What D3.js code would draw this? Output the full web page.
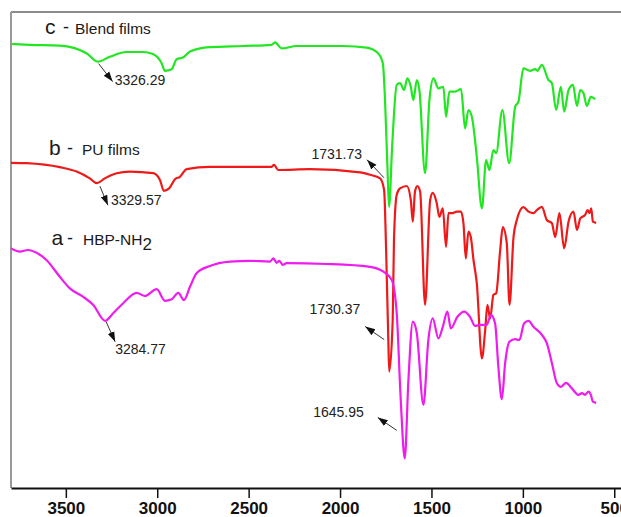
<!DOCTYPE html>
<html>
<head>
<meta charset="utf-8">
<script src="https://cdn.jsdelivr.net/npm/d3@7"></script>
<style>
  body { margin: 0; background: #fff; }
  svg { display: block; font-family: "Liberation Sans", Arial, sans-serif; }
</style>
</head>
<body>
<svg id="chart" width="621" height="517"></svg>
<script>
// wavenumber (cm-1), transmittance (a.u., offset)
const blendFilms = [
  [3800,111],[3697,110.8],[3533,110.6],[3387,108.7],[3326,106.6],[3259,107.8],[3168,109],[3078,109],
  [3024,108.5],[2976,106.2],[2958,104.3],[2921,104.7],[2894,107.2],[2860,107.6],[2821,109.1],[2712,110.2],
  [2531,110.5],[2374,110.8],[2356,111.4],[2319,109.9],[2237,110.5],[1984,110.5],[1854,110.1],[1792,108.7],
  [1766,106.2],[1754,97],[1741,80.5],[1732,70.3],[1714,86.3],[1690,100.8],[1672,101.2],[1650,99.5],
  [1632,102.4],[1613,100.3],[1599,97],[1580,102],[1566,99.5],[1535,78.7],[1511,97],[1489,102.4],
  [1462,99.9],[1435,100.3],[1420,92.8],[1402,99.1],[1371,99.1],[1338,99.7],[1316,89.9],[1298,94.5],
  [1279,92.8],[1252,82.8],[1224,69.9],[1201,82],[1183,79.5],[1161,84.5],[1146,83.7],[1112,94.5],
  [1075,81.2],[1042,95.3],[1024,96.6],[997,104.9],[960,104.3],[933,104.7],[920,104.3],[896,105.8],
  [860,102],[841,101.2],[818,94.5],[792,100.3],[774,94.1],[750,99.5],[726,100.8],[704,95.5],
  [686,99.5],[668,98.7],[650,95.5],[628,97.8],[604,97.2]
];

const puFilms = [
  [3800,81.3],[3715,81.2],[3533,80.2],[3441,79.1],[3369,77.4],[3330,76.2],[3287,77.4],[3222,78.7],
  [3150,79.1],[3022,78.7],[2985,77],[2964,74.3],[2935,74.9],[2903,77.2],[2876,77.8],[2839,79.7],
  [2712,80.3],[2374,80.3],[2361,80.8],[2338,79.5],[2164,79.7],[1891,78.9],[1836,78.3],[1781,77.4],
  [1759,74.5],[1748,59.5],[1736,37],[1731,29.1],[1712,42],[1705,62],[1690,73.3],[1672,74.9],
  [1635,75.5],[1613,72],[1602,66.6],[1590,74.1],[1577,75.5],[1562,74.1],[1535,45.8],[1507,72],
  [1493,73.8],[1471,71.2],[1457,67.8],[1438,69.9],[1420,60.3],[1407,68.7],[1389,68.7],[1361,69.1],
  [1339,69.1],[1325,66.2],[1312,57.4],[1298,64.1],[1285,62.8],[1270,57],[1252,51.2],[1224,32.4],
  [1206,39.5],[1194,45.8],[1179,42.4],[1161,48.3],[1146,48.7],[1124,59.5],[1110,65.2],[1088,61.2],
  [1073,45.8],[1051,62.8],[1033,67],[997,70.2],[969,69.1],[942,68.7],[923,69.5],[896,70.3],
  [869,67],[841,66.2],[823,62.7],[800,68.7],[774,59.9],[750,66.6],[723,69.1],[704,64.5],
  [686,67.4],[659,68.3],[646,69.5],[635,68.7],[626,69.9],[617,66.6],[599,66.3]
];

const hbpNH2 = [
  [3800,59.9],[3752,59.1],[3706,59.5],[3660,58.8],[3606,57],[3533,52.8],[3478,49.9],[3405,47.8],
  [3351,45.8],[3285,41.8],[3241,43.7],[3186,46.2],[3113,48.8],[3068,48],[3003,49.7],[2958,46.8],
  [2921,47.2],[2885,48.8],[2854,47],[2821,50.3],[2785,53.7],[2712,55.5],[2602,56.6],[2493,56.8],
  [2383,56.6],[2365,57.4],[2347,56.3],[2332,56.8],[2314,55.8],[2292,56.2],[2073,56],[1836,55.3],
  [1763,54.1],[1717,52],[1690,43.7],[1668,22],[1646,7.4],[1626,27],[1602,41.6],[1580,38.7],
  [1544,20.8],[1517,37],[1493,42.4],[1462,37.4],[1438,40.3],[1413,44.1],[1394,39.9],[1358,42.8],
  [1321,44.1],[1289,42.8],[1261,40.5],[1234,40.8],[1197,40.8],[1175,43.3],[1152,41.2],[1134,30.3],
  [1115,22.2],[1097,31.2],[1073,36.6],[1042,37.2],[1019,37],[993,41.2],[969,41.8],[942,40.3],
  [896,38.3],[869,36.2],[841,31.2],[814,26.2],[792,25.3],[763,26.3],[732,24.9],[696,23.3],
  [677,23.7],[659,23.3],[641,24.1],[628,23.3],[617,21.6],[599,21.3]
];

const majorTicks = [3500, 3000, 2500, 2000, 1500, 1000, 500];
const minorTicks = [3750, 3250, 2750, 2250, 1750, 1250, 750];

// peak labels: series index, label shown, wavenumber of the marked point
const peakSeries = [0, 1, 2, 0, 1, 2];
const peakLabels = ["3326.29", "3329.57", "3284.77", "1731.73", "1730.37", "1645.95"];
const peakAt = [3326, 3330, 3285, 1732, 1731, 1646];

const series = [blendFilms, puFilms, hbpNH2];
const colors = ["#22e622", "#ee1a1a", "#ee1cee"];

const svg = d3.select("#chart");

const x = d3.scaleLinear().domain([3800, 450]).range([11, 623.4]);
const y = d3.scaleLinear().domain([0, 119]).range([488, 12]);

// frame
svg.append("line").attr("x1", 11).attr("x2", 621).attr("y1", 12).attr("y2", 12)
  .attr("stroke", "#666").attr("stroke-width", 1.5);
svg.append("line").attr("x1", 11).attr("x2", 11).attr("y1", 12).attr("y2", 488)
  .attr("stroke", "#999").attr("stroke-width", 2);

// axis
const gx = svg.append("g").attr("transform", "translate(0,488)");
gx.call(d3.axisBottom(x).tickValues(minorTicks).tickSize(6).tickSizeOuter(0).tickFormat(""));
gx.call(d3.axisBottom(x).tickValues(majorTicks).tickSize(10).tickSizeOuter(0).tickFormat(d3.format("d")));
gx.select(".domain").attr("stroke", "#111").attr("stroke-width", 2);
gx.selectAll(".tick line").attr("stroke", "#111").attr("stroke-width", 1.5);
gx.selectAll(".tick text")
  .attr("y", 13.5)
  .attr("fill", "#111")
  .style("font-family", "'Liberation Sans', Arial, sans-serif")
  .style("font-size", "17px")
  .style("font-weight", "bold");

// spectra
const line = d3.line().x(d => x(d[0])).y(d => y(d[1])).curve(d3.curveMonotoneX);
svg.append("g").selectAll("path")
  .data(series)
  .join("path")
  .attr("d", line)
  .attr("fill", "none")
  .attr("stroke", (d, i) => colors[i])
  .attr("stroke-width", 2.2)
  .attr("stroke-linejoin", "round");

// curve labels
function curveLabel(letter, lx, dashX, nameX, base, name, sub) {
  const g = svg.append("g").attr("fill", "#1a1a1a");
  g.append("text").attr("x", lx).attr("y", base).style("font-size", "21px").text(letter);
  g.append("text").attr("x", dashX).attr("y", base - 1).style("font-size", "18px").text("-");
  const t = g.append("text").attr("x", nameX).attr("y", base).style("font-size", "15.5px").text(name);
  if (sub) t.append("tspan").attr("dy", 5).style("font-size", "17px").text(sub);
}
curveLabel("c", 45, 63, 75, 34, "Blend films");
curveLabel("b", 49, 67, 82, 154.5, "PU films");
curveLabel("a", 51.5, 67, 83, 245, "HBP-NH", "2");

// arrows
svg.append("defs").append("marker")
  .attr("id", "head")
  .attr("viewBox", "0 0 10 10")
  .attr("refX", 10).attr("refY", 5)
  .attr("markerWidth", 10).attr("markerHeight", 10)
  .attr("markerUnits", "userSpaceOnUse")
  .attr("orient", "auto")
  .append("path").attr("d", "M0,1.5L10,5L0,8.5Z").attr("fill", "#111");

// offsets from the marked point: tail, tip, text anchor
const offs = [
  { tail: [1, 2], tip: [15, 20], txt: [17, 23], anchor: "start" },
  { tail: [3, 3], tip: [11, 22], txt: [14, 22], anchor: "start" },
  { tail: [1, 1], tip: [10, 21], txt: [10, 33], anchor: "start" },
  { tail: [-5, -29], tip: [-22, -47], txt: [-27, -48], anchor: "end" },
  { tail: [-5, -32], tip: [-24, -45], txt: [-29, -58], anchor: "end" },
  { tail: [-8, -28], tip: [-27, -41], txt: [-41, -41], anchor: "end" }
];

peakLabels.forEach((lab, i) => {
  const pt = series[peakSeries[i]].find(d => d[0] === peakAt[i]);
  const px = x(pt[0]), py = y(pt[1]);
  const o = offs[i];
  svg.append("line")
    .attr("x1", px + o.tail[0]).attr("y1", py + o.tail[1])
    .attr("x2", px + o.tip[0]).attr("y2", py + o.tip[1])
    .attr("stroke", "#333").attr("stroke-width", 1)
    .attr("marker-end", "url(#head)");
  svg.append("text")
    .attr("x", px + o.txt[0]).attr("y", py + o.txt[1])
    .attr("text-anchor", o.anchor)
    .attr("fill", "#222")
    .style("font-size", "14px")
    .text(lab);
});
</script>
</body>
</html>
